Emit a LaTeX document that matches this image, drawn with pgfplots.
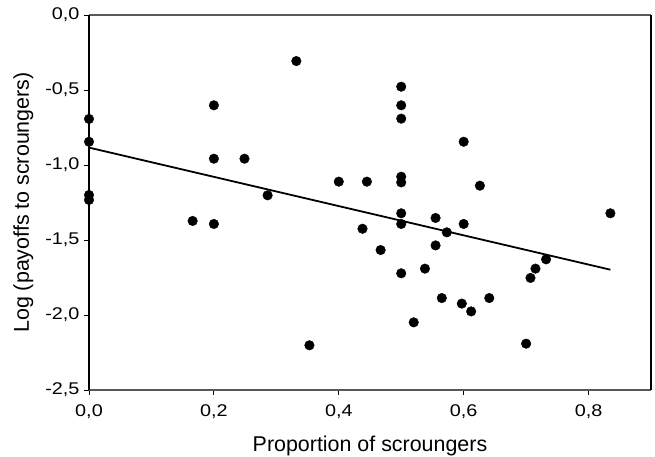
\documentclass[border=0pt]{standalone}
\usepackage{fontspec}
\setmainfont{Liberation Sans}
\newfontfamily\tickfont{Liberation Sans}[FakeStretch=1.17]
\usepackage{pgfplots}
\pgfplotsset{compat=1.18}
\pgfkeys{/pgf/number format/.cd, use comma, fixed, fixed zerofill, precision=1, assume math mode=true}
\newcommand\tickfnt{\tickfont\fontsize{17}{19}\selectfont}
\begin{document}
\begin{tikzpicture}
\begin{axis}[
  scale only axis,
  width=562bp, height=375bp,
  xmin=0, xmax=0.9, ymin=-2.5, ymax=0,
  xtick={0,0.2,0.4,0.6,0.8},
  ytick={-2.5,-2,-1.5,-1,-0.5,0},
  xtick pos=bottom, ytick pos=left,
  tick align=outside,
  major tick length=5bp,
  separate axis lines,
  x axis line style={draw=black!65, line width=1.3bp},
  y axis line style={draw=black, line width=1.1bp},
  every tick/.style={black, line width=0.8bp},
  xticklabel style={font=\tickfnt, yshift=-6bp},
  yticklabel style={font=\tickfnt, xshift=-1bp},
  xlabel={Proportion of scroungers},
  ylabel={Log (payoffs to scroungers)},
  label style={font=\fontsize{21.5}{24}\selectfont},
  xlabel style={at={(axis description cs:0.5,0)}, anchor=base, yshift=-61.7bp},
  ylabel style={at={(axis description cs:0,0.5)}, anchor=base, yshift=60bp},
  clip=false,
]
\addplot[only marks, mark=*, mark size=4.8bp, black] table {
x y
0 -0.693
0 -0.845
0 -1.200
0 -1.233
0.166 -1.373
0.200 -0.602
0.200 -0.958
0.200 -1.393
0.249 -0.958
0.286 -1.202
0.332 -0.307
0.353 -2.202
0.400 -1.111
0.438 -1.425
0.445 -1.111
0.467 -1.567
0.500 -0.478
0.500 -0.602
0.500 -0.691
0.500 -1.078
0.500 -1.116
0.500 -1.322
0.500 -1.393
0.500 -1.722
0.520 -2.049
0.538 -1.691
0.555 -1.353
0.555 -1.536
0.565 -1.887
0.573 -1.449
0.597 -1.924
0.600 -0.845
0.600 -1.393
0.612 -1.976
0.626 -1.138
0.641 -1.887
0.700 -2.191
0.707 -1.753
0.715 -1.691
0.732 -1.629
0.835 -1.322
};
\addplot[black, line width=1.8bp, no marks] coordinates {(0,-0.884) (0.835,-1.698)};
\end{axis}
\pgfresetboundingbox
\path[use as bounding box] ([xshift=-89bp,yshift=-67bp]current axis.south west) rectangle ([xshift=4bp,yshift=15bp]current axis.north east);
\end{tikzpicture}
\end{document}
